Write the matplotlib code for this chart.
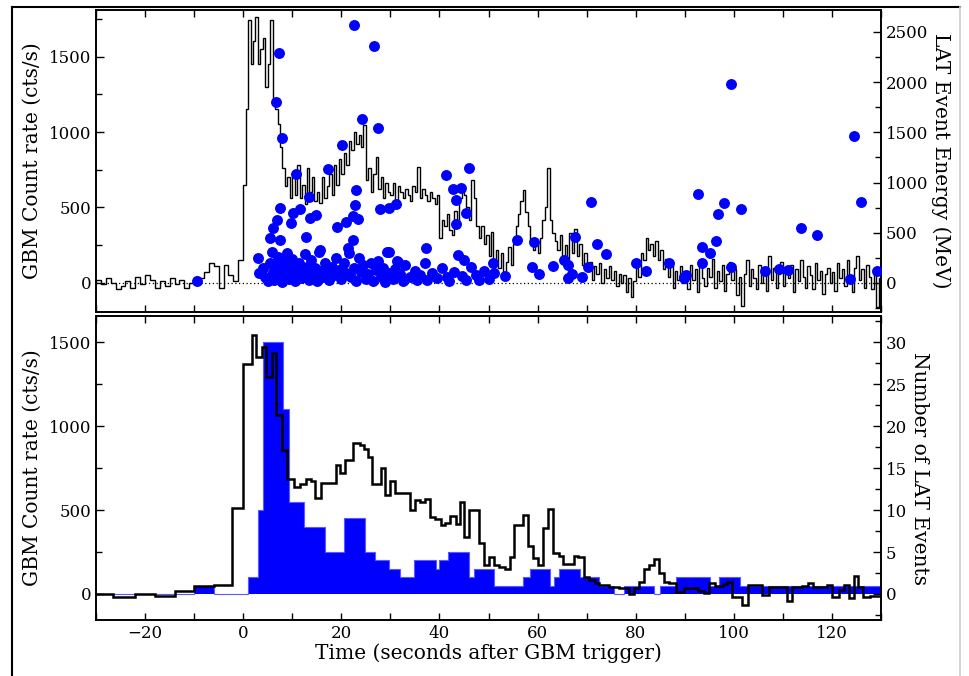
import numpy as np
import matplotlib
matplotlib.use('Agg')
import matplotlib.pyplot as plt
from matplotlib.lines import Line2D
from matplotlib.ticker import MultipleLocator

plt.rcParams['font.family'] = 'DejaVu Serif'

# --- GBM curva fina (panel superior): 1 s antes del trigger, 0.5 s despues ---
gbm_fino_pre = [20, -10, 30, 0, -40, -20, 10, -30, 40, -10,
                50, 20, -30, 10, -20, 30, -10, 20, -30, 0,
                40, 30, 70, 130, 110, -30, 120, 50, 10, 150]
gbm_fino = [
    650, 1150, 1740, 1450, 1600, 1760, 1450, 1550, 1620, 1300,
    1450, 1740, 1200, 1150, 1050, 900, 760, 640, 700, 560,
    720, 580, 780, 560, 650, 520, 760, 600, 700, 540,
    600, 530, 700, 560, 640, 720, 580, 780, 650, 820,
    720, 860, 780, 940, 880, 1000, 920, 980, 900, 1045,
    680, 760, 600, 720, 835, 620, 700, 560, 660, 600,
    580, 660, 550, 640, 600, 560, 620, 580, 540, 640,
    600, 770, 560, 620, 580, 540, 600, 560, 520, 580,
    300, 420, 380, 460, 350, 320, 480, 400, 560, 620,
    580, 500, 420, 680, 560, 380, 300, 380, 260, 320,
    180, 340, 150, 220, 100, 200, 60, 140, 240, 120,
    260, 380, 460, 540, 615, 470, 380, 280, 220, 260,
    200, 300, 420, 500, 760, 420, 330, 280, 220, 320,
    150, 250, 120, 330, 200, 360, 180, 260, 120, 200,
    80, 140, 20, 110, 60, 130, 0, 90, 30, 110,
    20, 80, -20, 60, 0, 50, -60, 30, -90, 10,
    100, 40, 200, 150, 300, 220, 260, 180, 280, 150,
    220, 90, 160, 40, 120, -30, 80, 20, 110, 0,
    60, -40, 120, 20, 90, -60, 150, 30, -20, 100,
    40, 160, -30, 80, 10, 120, -50, 60, 140, 20,
    90, -80, 40, -150, 60, 150, -20, 90, 30, -40,
    120, 0, 70, -50, 180, 20, 100, -30, 60, 140,
    -20, 80, 30, 120, -60, 90, 10, 150, 40, -30,
    110, 50, -40, 130, 20, 80, -70, 60, 100, 0,
    70, -50, 130, 30, 90, -20, 150, 40, -60, 100,
    180, 20, 90, -30, 120, 40, -40, 80, -160, 30,
]

# --- eventos LAT (tiempo, energia en MeV) ---
lat_t = [-9.5, 6.6, 7.3, 7.9, 10.7, 13.4, 17.3, 20.1, 22.6, 26.6, 24.3, 27.5,
         22.9, 22.8, 22.4, 23.4, 20.9, 19.1, 22.4, 21.4, 12.8, 7.5, 10.2, 11.5,
         13.6, 14.8, 6.8, 6.1, 9.8, 5.4, 7.5, 27.8, 29.7, 31.1, 29.4, 27.5,
         41.3, 46.1, 42.7, 44.4, 43.3, 45.4, 43.4, 29.8, 37.2, 31.4, 43.7, 45.1,
         50.9, 55.9, 59.3, 70.9, 67.7, 72.2, 73.9, 80.0, 82.1, 86.8, 63.1, 58.9,
         60.2, 65.4, 66.1, 67.0, 66.3, 69.0, 70.2, 51.2, 53.4, 89.9, 92.7, 97.9,
         96.7, 101.4, 96.3, 93.6, 95.1, 93.5, 99.4, 90.2, 89.8, 106.3, 109.2, 111.1,
         113.6, 116.9, 125.9, 123.6, 129.2, 99.4, 124.5, 15.6, 31.6,
         3.1, 3.3, 4.0, 4.5, 5.0, 5.5, 5.8, 6.0, 6.3, 6.6, 7.0, 7.2, 7.6, 8.0,
         8.3, 8.7, 9.0, 9.3, 9.6, 10.0, 10.3, 10.6, 11.0, 11.4, 11.8, 12.2, 12.6,
         13.0, 13.4, 13.8, 14.2, 14.6, 15.0, 15.4, 15.8, 16.2, 16.6, 17.0, 17.5,
         18.0, 18.5, 19.0, 19.5, 20.0, 20.5, 21.0, 21.5, 22.0, 22.5, 23.0, 23.5,
         24.0, 24.5, 25.0, 25.5, 26.0, 26.5, 27.0, 28.0, 28.5, 29.0, 29.5, 30.5,
         31.0, 32.0, 32.5, 33.0, 34.0, 35.0, 35.5, 36.0, 37.0, 37.5, 38.5, 39.5,
         40.5, 41.5, 42.0, 43.0, 44.5, 45.5, 46.5, 47.5, 48.0, 49.0, 50.0]
lat_e = [20, 1805, 2290, 1440, 1090, 855, 1140, 1375, 2570, 2365, 1630, 1545,
         925, 777, 668, 634, 604, 561, 428, 345, 455, 744, 694, 735,
         644, 677, 627, 546, 595, 448, 428, 734, 744, 787, 306, 220,
         1076, 1142, 936, 942, 826, 700, 584, 312, 345, 222, 279, 229,
         196, 428, 412, 803, 462, 388, 289, 203, 123, 196, 170, 156,
         90, 229, 179, 90, 46, 56, 156, 96, 70, 63, 886, 800,
         687, 737, 422, 355, 302, 203, 156, 80, 46, 123, 139, 129,
         545, 478, 810, 36, 120, 1980, 1464, 330, 210,
         246, 100, 150, 60, 20, 200, 310, 110, 30, 180, 260, 70, 140, 10,
         220, 90, 300, 40, 160, 240, 80, 20, 130, 200, 50, 100, 290,
         160, 30, 230, 90, 150, 20, 310, 120, 60, 200, 100, 30,
         160, 80, 250, 130, 40, 200, 100, 300, 60, 150, 20, 250,
         110, 180, 40, 90, 200, 20, 130, 60, 150, 10, 100, 40,
         140, 90, 20, 180, 60, 120, 30, 80, 200, 30, 100, 50,
         150, 60, 20, 110, 70, 30, 160, 80, 30, 120, 40]

# --- GBM curva gruesa (panel inferior) ---
gbm_bordes = [-30, -26.5, -22, -18, -14, -10, -6, -2.2, 0, 1.7, 2.6, 3.8, 4.7, 5.9,
              6.7, 7.9, 8.9, 10.4, 11.5, 12.7, 13.9, 14.7, 15.9, 18.9, 19.7, 20.8,
              22.3, 23.8, 24.7, 25.4, 26.2, 28.1, 28.9, 30.0, 31.0, 34.0, 35.0, 36.0,
              37.1, 38.1, 39.1, 40.3, 41.1, 42.1, 43.3, 44.1, 45.1, 46.1, 48.1, 49.1,
              50.1, 51.1, 52.1, 53.4, 54.3, 55.2, 57.1, 58.1, 59.1, 60.1, 61.1, 62.1,
              63.2, 64.3, 65.2, 67.4, 68.3, 69.4, 70.5, 71.8, 72.5, 74.5, 76.6, 78.6,
              79.6, 80.6, 81.6, 82.7, 83.7, 84.7, 85.7, 86.7, 88.2, 89.9, 92.6, 94.0,
              95.0, 96.2, 97.7, 98.7, 99.7, 101.7, 102.8, 105.8, 107.2, 110.9, 111.9,
              113.9, 115.2, 116.1, 119.0, 120.0, 121.4, 122.4, 123.4, 124.4, 125.4,
              126.4, 127.8, 130]
gbm_grueso = [0, -16, 0, -10, 20, 48, 55, 514, 1370, 1542, 1412, 1472, 1294,
              1436, 1065, 857, 683, 635, 655, 682, 670, 570, 660, 768, 718,
              798, 900, 885, 865, 818, 655, 748, 590, 675, 600, 500, 560,
              545, 565, 456, 444, 410, 425, 466, 415, 545, 340, 500, 302,
              173, 222, 173, 163, 149, 220, 410, 470, 286, 212, 173, 390,
              508, 242, 226, 179, 226, 220, 103, 83, 67, 53, 40, 34,
              0, 34, 73, 149, 173, 206, 123, 73, 63, 12, 34, 20,
              8, 63, 48, 60, 73, -16, -65, 54, -6, 44, -42,
              40, 48, 67, 44, 54, -16, 24, 54, -26, 107,
              44, -16, -14]

# --- numero de eventos LAT por bloque ---
lat_bordes = [-30, -10, -6, 1, 3.1, 4, 8.1, 9.3, 12.4, 16.6, 20.5, 24.8, 26.8, 29.7,
              31.9, 34.8, 39.3, 39.85, 41.7, 46, 47, 51.2, 57.1, 58.4, 62.5, 63.3,
              64.4, 68.7, 72.6, 75.6, 77.7, 83.8, 84.9, 88.2, 95.2, 97, 101.3, 130]
lat_cuentas = [0, 1, 0, 2, 10, 30, 22, 11, 8, 5, 9, 5, 4, 3, 2, 4, 3, 4, 5, 2, 3,
               1, 2, 3, 1, 2, 3, 2, 1, 0, 1, 0, 1, 2, 1, 2, 1]

azul = '#0000ff'
fs_tick = 12
fs_lab = 14.5

fig = plt.figure(figsize=(9.69, 6.76), dpi=100)
ax1 = fig.add_axes([0.0991, 0.5385, 0.8101, 0.4467])
ax2 = fig.add_axes([0.0991, 0.0828, 0.8101, 0.4497])

# Panel superior
bordes_fino = np.concatenate([np.arange(-30, 0, 1.0), np.arange(0, 130.01, 0.5)])
ax1.stairs(gbm_fino_pre + gbm_fino, bordes_fino, color='black', lw=1.0)
ax1.axhline(0, color='black', lw=0.9, ls=(0, (1, 2)))
ax1.set_xlim(-30, 130)
ax1.set_ylim(-192, 1808)
ax1r = ax1.twinx()
ax1r.scatter(lat_t, lat_e, s=62, color=azul, zorder=3, linewidths=0)
ax1r.set_ylim(-289, 2719)
ax1.set_ylabel('GBM Count rate (cts/s)', fontsize=fs_lab, labelpad=5)
ax1r.set_ylabel('LAT Event Energy (MeV)', fontsize=fs_lab, rotation=-90, labelpad=16)
ax1.tick_params(labelbottom=False)

# Panel inferior
ax2r = ax2.twinx()
ax2r.stairs(lat_cuentas, lat_bordes, fill=True, color=azul, baseline=0)
ax2r.stairs(lat_cuentas, lat_bordes, color='#5a5aff', lw=0.8, baseline=0)
ax2.stairs(gbm_grueso, gbm_bordes, color='black', lw=1.8)
ax2.set_zorder(ax2r.get_zorder() + 1)
ax2.patch.set_visible(False)
ax2.set_xlim(-30, 130)
ax2.set_ylim(-155, 1655)
ax2r.set_ylim(-3.1, 33.1)
ax2.set_ylabel('GBM Count rate (cts/s)', fontsize=fs_lab, labelpad=5)
ax2r.set_ylabel('Number of LAT Events', fontsize=fs_lab, rotation=-90, labelpad=16)
ax2.set_xlabel('Time (seconds after GBM trigger)', fontsize=fs_lab, labelpad=1)

for ax in (ax1, ax2):
    ax.xaxis.set_major_locator(MultipleLocator(20))
    ax.xaxis.set_minor_locator(MultipleLocator(10))
    ax.yaxis.set_major_locator(MultipleLocator(500))
    ax.yaxis.set_minor_locator(MultipleLocator(250))
    ax.tick_params(which='both', direction='in', top=True, right=False, labelsize=fs_tick)
    ax.tick_params(which='major', length=6, width=1)
    ax.tick_params(which='minor', length=4, width=1)
    ax.tick_params(axis='x', which='both', length=5)
ax1r.yaxis.set_major_locator(MultipleLocator(500))
ax1r.yaxis.set_minor_locator(MultipleLocator(250))
ax2r.yaxis.set_major_locator(MultipleLocator(5))
ax2r.yaxis.set_minor_locator(MultipleLocator(2.5))
for ax in (ax1r, ax2r):
    ax.tick_params(which='both', direction='in', labelsize=fs_tick)
    ax.tick_params(which='major', length=6, width=1)
    ax.tick_params(which='minor', length=4, width=1)
for ax in (ax1, ax2, ax1r, ax2r):
    for sp in ax.spines.values():
        sp.set_linewidth(1.2)

# marco exterior
fig.add_artist(Line2D([0.0124, 0.9907], [0.9896, 0.9896], color='black', lw=1.5,
                      transform=fig.transFigure))
fig.add_artist(Line2D([0.0124, 0.0124], [0, 0.9896], color='black', lw=1.5,
                      transform=fig.transFigure))
fig.add_artist(Line2D([0.9907, 0.9907], [0, 0.9896], color='#cccccc', lw=1.2,
                      transform=fig.transFigure))

plt.savefig('out.png', dpi=100)
